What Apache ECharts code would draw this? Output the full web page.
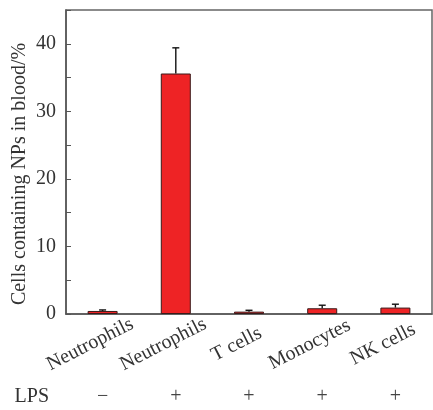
<!DOCTYPE html>
<html>
<head>
<meta charset="utf-8">
<script src="https://cdn.jsdelivr.net/npm/echarts@6/dist/echarts.min.js"></script>
<style>
  html, body { margin: 0; padding: 0; background: #fff; }
  #chart { width: 433px; height: 410px; }
</style>
</head>
<body>
<div id="chart"></div>
<script>
// Cell types and LPS treatment
const categories = ['Neutrophils', 'Neutrophils', 'T cells', 'Monocytes', 'NK cells'];
const lpsLabels = ['\u2212', '+', '+', '+', '+'];
// Percentage of cells containing NPs (mean) and upper error (SD)
const meanValues = [0.45, 35.6, 0.35, 0.85, 0.95];
const errorValues = [0.15, 3.8, 0.2, 0.45, 0.5];
const yTicks = [0, 10, 20, 30, 40];

const serif = '"Liberation Serif", "DejaVu Serif", serif';
const chart = echarts.init(document.getElementById('chart'));

const errorData = meanValues.map((v, i) => [i, v, v + errorValues[i]]);

chart.setOption({
  animation: false,
  grid: {
    left: 66, right: 1, top: 10, bottom: 96,
    outerBoundsMode: 'none',
    containLabel: false,
    show: true, borderColor: '#666', borderWidth: 1.5, backgroundColor: 'transparent'
  },
  xAxis: [
    {
      type: 'category',
      data: categories,
      axisLine: { lineStyle: { color: '#555', width: 1.5 } },
      axisTick: { show: false },
      axisLabel: {
        rotate: 27,
        align: 'center',
        verticalAlign: 'middle',
        margin: 24,
        padding: [0, 28, 0, 0],
        fontFamily: serif,
        fontSize: 20,
        color: '#333'
      }
    },
    {
      type: 'category',
      position: 'bottom',
      offset: 83,
      data: lpsLabels,
      name: 'LPS',
      nameLocation: 'start',
      nameGap: 17,
      nameTextStyle: { fontFamily: serif, fontSize: 20, color: '#333', verticalAlign: 'middle' },
      axisLine: { show: false },
      axisTick: { show: false },
      axisLabel: { margin: 0, verticalAlign: 'middle', fontFamily: serif, fontSize: 20, color: '#444' }
    }
  ],
  yAxis: {
    type: 'value',
    min: 0,
    max: 45,
    interval: 10,
    name: 'Cells containing NPs in blood/%',
    nameLocation: 'middle',
    nameGap: 36,
    nameMoveOverlap: false,
    nameTextStyle: { fontFamily: serif, fontSize: 20, color: '#333', padding: [0, 24, 0, 0] },
    axisLine: { show: true, lineStyle: { color: '#555', width: 1.5 } },
    axisTick: { show: true, inside: true, length: 5, lineStyle: { color: '#555' } },
    minorTick: { show: true, splitNumber: 2, length: 5, lineStyle: { color: '#555' } },
    splitLine: { show: false },
    axisLabel: {
      margin: 10,
      fontFamily: serif,
      fontSize: 20,
      color: '#333',
      formatter: v => (yTicks.includes(v) ? String(v) : '')
    }
  },
  series: [
    {
      type: 'bar',
      xAxisIndex: 0,
      data: meanValues,
      barWidth: '41%',
      itemStyle: { color: '#ee2325', borderColor: '#3a1a1a', borderWidth: 1 }
    },
    {
      type: 'custom',
      xAxisIndex: 0,
      data: errorData,
      z: 3,
      renderItem: function (params, api) {
        const base = api.coord([api.value(0), api.value(1)]);
        const top = api.coord([api.value(0), api.value(2)]);
        const capHalf = 3.5;
        const style = { stroke: '#111', lineWidth: 1.4 };
        return {
          type: 'group',
          children: [
            { type: 'line', shape: { x1: base[0], y1: base[1], x2: top[0], y2: top[1] }, style },
            { type: 'line', shape: { x1: top[0] - capHalf, y1: top[1], x2: top[0] + capHalf, y2: top[1] }, style }
          ]
        };
      }
    }
  ]
});
</script>
</body>
</html>
